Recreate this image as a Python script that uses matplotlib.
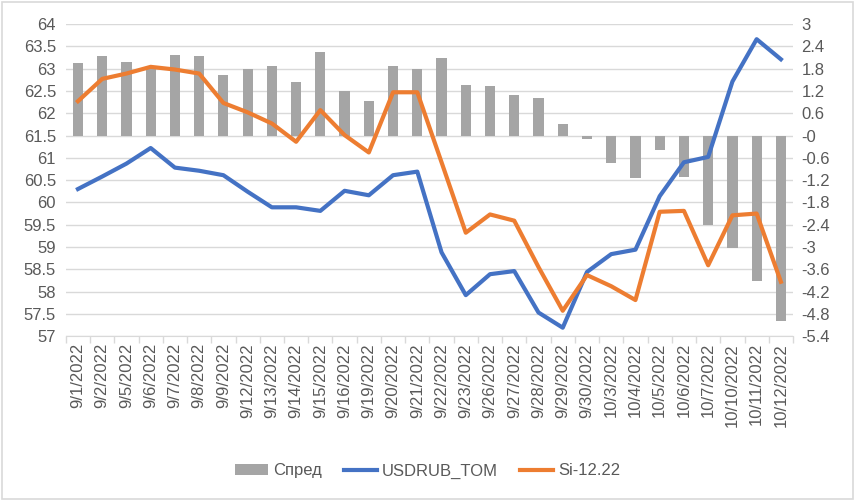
import matplotlib
matplotlib.use("Agg")
import matplotlib.pyplot as plt
import numpy as np
from matplotlib.patches import Rectangle

dates = ["9/1/2022", "9/2/2022", "9/5/2022", "9/6/2022", "9/7/2022", "9/8/2022",
         "9/9/2022", "9/12/2022", "9/13/2022", "9/14/2022", "9/15/2022", "9/16/2022",
         "9/19/2022", "9/20/2022", "9/21/2022", "9/22/2022", "9/23/2022", "9/26/2022",
         "9/27/2022", "9/28/2022", "9/29/2022", "9/30/2022", "10/3/2022", "10/4/2022",
         "10/5/2022", "10/6/2022", "10/7/2022", "10/10/2022", "10/11/2022", "10/12/2022"]

spread = [1.94, 2.15, 1.99, 1.88, 2.18, 2.15, 1.64, 1.80, 1.88, 1.45, 2.26, 1.21,
          0.94, 1.86, 1.78, 2.09, 1.37, 1.32, 1.10, 1.00, 0.32, -0.09, -0.73, -1.15,
          -0.40, -1.12, -2.42, -3.02, -3.92, -5.00]

usdrub_tom = [60.30, 60.58, 60.87, 61.22, 60.78, 60.71, 60.61, 60.24, 59.89, 59.89,
              59.81, 60.26, 60.16, 60.61, 60.69, 58.88, 57.92, 58.39, 58.46, 57.53,
              57.19, 58.44, 58.84, 58.94, 60.14, 60.90, 61.02, 62.71, 63.66, 63.21]

si_12_22 = [62.27, 62.77, 62.89, 63.04, 62.98, 62.89, 62.23, 62.02, 61.77, 61.36,
            62.07, 61.51, 61.12, 62.47, 62.47, 60.90, 59.32, 59.73, 59.59, 58.55,
            57.57, 58.37, 58.12, 57.81, 59.79, 59.81, 58.59, 59.71, 59.75, 58.22]

left_ticks = np.arange(57, 64.01, 0.5)
right_ticks = np.arange(-5.4, 3.01, 0.6)

grey_txt = "#595959"
grid_c = "#d9d9d9"
fs = 12

plt.rcParams["font.family"] = ["Liberation Sans", "DejaVu Sans"]
fig = plt.figure(figsize=(8.55, 5.01), dpi=100)

ax = fig.add_axes([0.077, 0.329, 0.8505, 0.623])
ax2 = ax.twinx()

x = np.arange(len(dates))

# bars on the secondary (right) axis, lines on the primary one
ax2.bar(x, spread, width=0.42, color="#a5a5a5", zorder=1, label="Спред")
ax2.set_ylim(-5.4, 3)
ax2.set_yticks(right_ticks)
ax2.set_yticklabels([f"{v:g}" for v in np.round(right_ticks, 1)])
for v in right_ticks:
    ax2.axhline(v, color=grid_c, lw=1, zorder=0)

ax.set_zorder(ax2.get_zorder() + 1)
ax.patch.set_visible(False)
ax.plot(x, usdrub_tom, color="#4472c4", lw=3, solid_joinstyle="round", label="USDRUB_TOM")
ax.plot(x, si_12_22, color="#ed7d31", lw=3, solid_joinstyle="round", label="Si-12.22")
ax.set_ylim(57, 64)
ax.set_yticks(left_ticks)
ax.set_yticklabels([f"{v:g}" for v in left_ticks])
ax.set_xlim(-0.5, len(dates) - 0.5)

ax.set_xticks(x)
ax.set_xticklabels(dates, rotation=90, fontsize=fs, color=grey_txt)
ax.set_xticks(np.arange(-0.5, len(dates)), minor=True)
ax.tick_params(axis="x", which="major", length=0, pad=5)
ax.tick_params(axis="x", which="minor", length=5, color=grid_c, width=1)
ax.tick_params(axis="y", length=0, labelsize=fs, labelcolor=grey_txt, pad=7)
ax2.tick_params(axis="y", length=0, labelsize=fs, labelcolor=grey_txt, pad=6)

for a in (ax, ax2):
    for s in a.spines.values():
        s.set_visible(False)
ax.spines["bottom"].set_visible(True)
ax.spines["bottom"].set_color(grid_c)

h1, l1 = ax2.get_legend_handles_labels()
h2, l2 = ax.get_legend_handles_labels()
fig.legend(h1 + h2, l1 + l2, loc="center", bbox_to_anchor=(0.5, 0.06), ncol=3,
           frameon=False, fontsize=fs, labelcolor=grey_txt, handlelength=2.0,
           columnspacing=1.3, handletextpad=0.3)

fig.patches.append(Rectangle((0.002, 0.003), 0.996, 0.994, transform=fig.transFigure,
                             fill=False, edgecolor="#d9d9d9", lw=1.2))

fig.savefig("out.png", dpi=100)
